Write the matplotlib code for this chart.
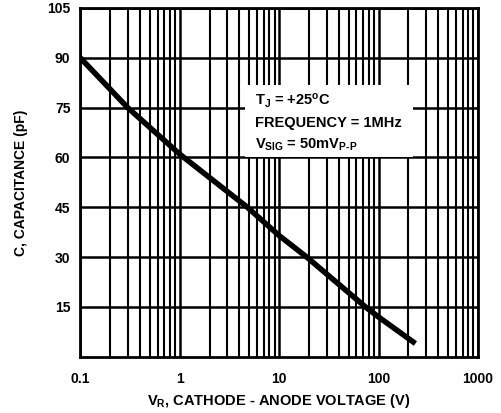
import matplotlib
matplotlib.use("Agg")
import matplotlib.pyplot as plt
from matplotlib.ticker import FixedLocator, NullFormatter

# values
vr = [0.1, 0.3, 1.0, 4.8, 10, 19, 74, 100, 235]
cap = [90, 75, 61, 45, 36.5, 30, 15, 12, 4]
yticks = [15, 30, 45, 60, 75, 90, 105]
xticks = [0.1, 1, 10, 100, 1000]
xtick_labels = ["0.1", "1", "10", "100", "1000"]

plt.rcParams['font.family'] = ['Liberation Sans', 'DejaVu Sans']
plt.rcParams['font.weight'] = 'bold'
plt.rcParams['mathtext.fontset'] = 'custom'
plt.rcParams['mathtext.rm'] = 'Liberation Sans:bold'
plt.rcParams['mathtext.it'] = 'Liberation Sans:bold'
plt.rcParams['mathtext.bf'] = 'Liberation Sans:bold'

fig = plt.figure(figsize=(5.01, 4.13), dpi=100)
ax = fig.add_axes([0.160, 0.136, 0.794, 0.845])

ax.set_xscale('log')
ax.set_xlim(0.1, 1000)
ax.set_ylim(0, 105)

ax.set_xticks(xticks)
ax.set_xticklabels(xtick_labels)
minor = [m * d for d in [0.1, 1, 10, 100] for m in range(2, 10)]
ax.xaxis.set_minor_locator(FixedLocator(minor))
ax.xaxis.set_minor_formatter(NullFormatter())
ax.set_yticks(yticks)
ax.tick_params(which='both', length=0, labelsize=10)
ax.tick_params(axis='y', pad=7)
ax.tick_params(axis='x', pad=11)

ax.grid(which='major', axis='both', color='black', lw=1.8)
ax.grid(which='minor', axis='x', color='black', lw=1.5)
for s in ax.spines.values():
    s.set_linewidth(2)

ax.plot(vr, cap, color='black', lw=4, solid_capstyle='butt', zorder=3)

# white label box over the grid
box = plt.Rectangle((0.415, 0.573), 0.422, 0.206, transform=ax.transAxes,
                    facecolor='white', edgecolor='none', zorder=4)
ax.add_patch(box)
ax.text(0.44, 0.733, r"T$_\mathregular{J}$ = +25$^\mathregular{o}$C", transform=ax.transAxes,
        fontsize=10.5, fontweight='bold', va='center', zorder=5)
ax.text(0.44, 0.670, "FREQUENCY = 1MHz", transform=ax.transAxes,
        fontsize=10.5, fontweight='bold', va='center', zorder=5)
ax.text(0.44, 0.607, r"V$_\mathregular{SIG}$ = 50mV$_\mathregular{P\text{-}P}$", transform=ax.transAxes,
        fontsize=10.5, fontweight='bold', va='center', zorder=5)

ax.set_xlabel(r"V$_\mathregular{R}$, CATHODE - ANODE VOLTAGE (V)", fontsize=10.5,
              fontweight='bold', labelpad=4)
ax.set_ylabel("C, CAPACITANCE (pF)", fontsize=10, fontweight='bold', labelpad=14)

fig.savefig("out.png", dpi=100)
